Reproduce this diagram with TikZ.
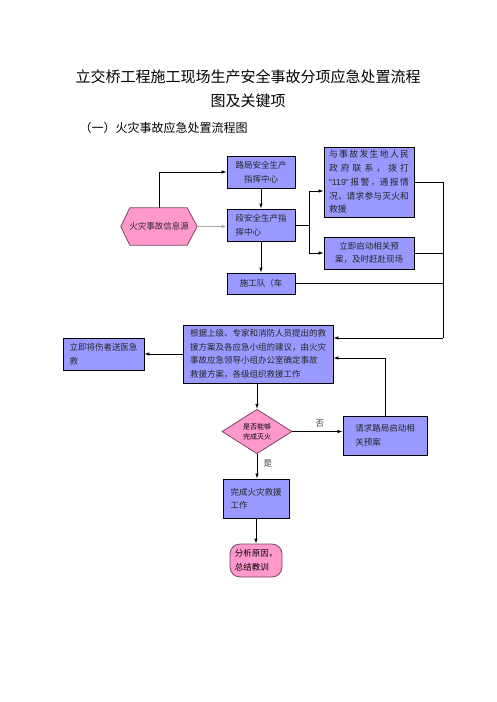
\documentclass[tikz,border=0pt]{standalone}
\usepackage{fontspec}
\setmainfont{Noto Sans CJK SC}
\newfontfamily\latinfont{Liberation Sans}
\usepackage{xcolor}
\usepackage{tikz}
\usetikzlibrary{arrows.meta,positioning,calc,shapes.geometric,backgrounds}

\definecolor{boxblue}{RGB}{153,153,255}
\definecolor{boxpink}{RGB}{255,153,204}
\definecolor{pinkline}{RGB}{120,70,100}

\newcommand{\jline}[1]{\makebox[80pt][s]{#1}}

\begin{document}
\begin{tikzpicture}[
  x=1pt, y=-1pt,
  >={Latex[length=5pt,width=3.5pt]},
  font=\fontsize{8.5}{13.5}\selectfont,
  proc/.style={
    draw, line width=0.9pt, fill=boxblue, text=black!85,
    inner sep=3pt, align=left
  },
  ctr/.style={proc, align=center},
  hexa/.style={inner sep=0pt, minimum width=76, minimum height=37, text=black!85},
  judge/.style={
    diamond, draw=pinkline, fill=boxpink, line width=0.8pt, inner sep=0pt,
    minimum width=70, minimum height=43, align=center,
    font=\fontsize{7}{10}\selectfont
  },
  term/.style={
    rounded corners=10pt, draw=pinkline, fill=boxpink, line width=0.8pt,
    minimum width=52, minimum height=33, align=left, inner sep=2pt
  },
  flow/.style={->, line width=0.8pt},
  link/.style={line width=0.8pt},
  lbl/.style={font=\fontsize{8.5}{10}\selectfont, text=black!75}
]
\useasboundingbox (0,0) rectangle (496,702);

% ---- headings ----
\node[font=\fontsize{15}{18}\selectfont] (title1) at (248,77)
  {立交桥工程施工现场生产安全事故分项应急处置流程};
\node[font=\fontsize{15}{18}\selectfont] (title2) at (248,101) {图及关键项};
\node[font=\fontsize{12}{14}\selectfont, anchor=west] (sub) at (76,128)
  {（一）火灾事故应急处置流程图};

% ---- upper part: alarm and command ----
\node[hexa] (src) at (159,226.5) {火灾事故信息源};
\node[ctr, minimum width=68, minimum height=32] (lj) at (261,172) {路局安全生产\\指挥中心};
\node[proc, minimum width=68, minimum height=32] (dj) at (261,225) {段安全生产指\\挥中心};
\node[proc, minimum width=68, minimum height=21] (sgd) at (261,283.5) {施工队（车};
\node[proc, minimum width=90, minimum height=70, font=\fontsize{8.8}{13.8}\selectfont] (lx) at (369,182)
  {\jline{与\hfil 事\hfil 故\hfil 发\hfil 生\hfil 地\hfil 人\hfil 民}\\
   \jline{政\hfil 府\hfil 联\hfil 系\hfil ，\hfil 拨\hfil 打}\\
   \jline{{\latinfont “119”}\hfil 报\hfil 警\hfil ，通\hfil 报\hfil 情}\\
   \jline{况\hfil ，请\hfil 求\hfil 参\hfil 与\hfil 灭\hfil 火\hfil 和}\\
   救援};
\node[ctr, minimum width=90, minimum height=32] (qd) at (369,253)
  {立即启动相关预\\案，及时赶赴现场};

\begin{scope}[on background layer]
  \filldraw[fill=boxpink, draw=pinkline, line width=0.8pt]
    (src.west) -- ($(src.north west)+(9,0)$) -- ($(src.north east)+(-10,0)$)
    -- (src.east) -- ($(src.south east)+(-10,0)$) -- ($(src.south west)+(9,0)$) -- cycle;
\end{scope}

% ---- lower part: rescue ----
\node[proc, minimum width=150, minimum height=58] (gj) at (258,354)
  {根据上级、专家和消防人员提出的救\\援方案及各应急小组的建议，由火灾\\事故应急领导小组办公室确定事故\\救援方案，各级组织救援工作};
\node[proc, minimum width=81, minimum height=32] (sy) at (103.5,354) {立即将伤者送医急\\救};
\node[judge] (pd) at (257,431.5) {是否能够\\完成灭火};
\node[proc, minimum width=84, minimum height=39] (qq) at (385,435.5) {请求路局启动相\\关预案};
\node[proc, minimum width=66, minimum height=39] (wc) at (256,498.5) {完成火灾救援\\工作};
\node[term] (fx) at (256,560.5) {分析原因，\\总结教训};

% ---- connectors ----
\coordinate (fk) at (309,225);
\coordinate (rr) at (443,338);

\draw[flow] (src.north) |- (lj.west);
\draw[->, line width=1.8pt, gray!70] (src.east) -- (src.east -| dj.west);
\draw[flow] (lj) -- (dj);
\draw[flow] (dj) -- (sgd);
\draw[link] (dj.east) -- (fk);
\draw[flow] (fk) |- ($(lx.west)+(0,9)$);
\draw[flow] (fk) |- (qd.west);

\draw[link] (lx.east) -| (rr);
\draw[link] (qd.east) -- (qd.east -| rr);
\draw[link] (sgd.east) -- (sgd.east -| rr);
\draw[flow] (rr) -- (rr -| gj.east);
\draw[flow] (qq.north) |- ($(gj.east)+(0,4)$);

\draw[flow] (gj.west) -- (sy.east);
\draw[flow] (gj.south -| pd.north) -- (pd.north);
\draw[flow] (pd.east) -- node[lbl, above=1pt, pos=0.55] {否} (pd.east -| qq.west);
\draw[flow] (pd.south) -- node[lbl, right=3pt, pos=0.4] {是} (pd.south |- wc.north);
\draw[flow] (wc.south -| fx.north) -- (fx.north);

\end{tikzpicture}
\end{document}
